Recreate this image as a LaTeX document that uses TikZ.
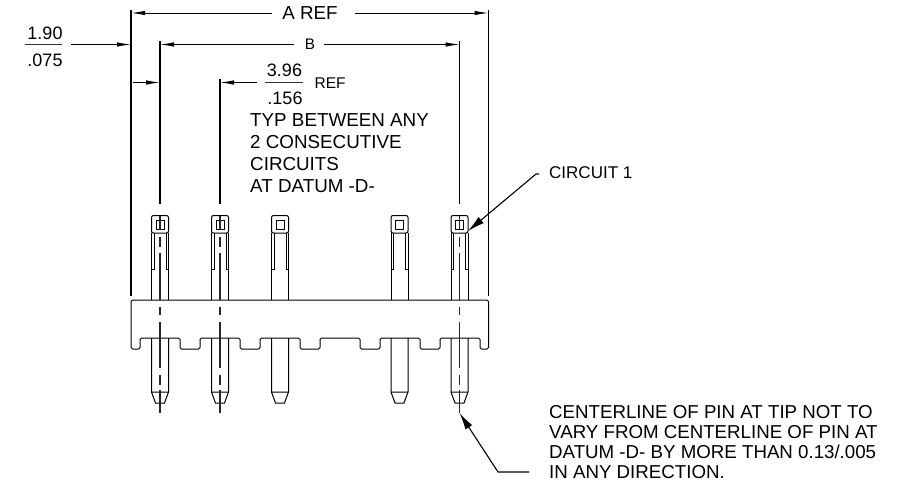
\documentclass[tikz,border=0pt]{standalone}
\usepackage{fontspec}
\setmainfont{Liberation Sans}
\usetikzlibrary{arrows.meta}
\colorlet{part colour}{black}
\tikzset{
    % Long thin heads, as on the drawing
    >={Latex[length=14pt, width=4.5pt]},
%
    % Lines
    part/.style={draw=part colour, line width=1pt},
    dim/.style={draw=black, line width=1pt, ->},
    leader/.style={draw=black, line width=1.1pt,
        >={Latex[length=17pt, width=8pt]}, ->},
    extension/.style={draw=black, line width=1.2pt},
    centre/.style={draw=black!85, line width=1.2pt},
    rule/.style={draw=black!80, line width=0.9pt},
%
    % Text
    label/.style={inner sep=0, align=left},
    big text/.style={label, font=\fontsize{18.8}{21.8}\selectfont},
    note text/.style={label, font=\fontsize{18.7}{20}\selectfont},
    small text/.style={label, font=\fontsize{15.3}{18}\selectfont},
    mid text/.style={label, font=\fontsize{17}{20}\selectfont},
    tiny text/.style={label, font=\fontsize{15.5}{18}\selectfont},
    frac text/.style={label, font=\fontsize{18}{20}\selectfont},
%
    % One pin, the origin on its axis at the top face of the housing
    pics/pin/.style={
        code={
            \draw [part, fill=white, rounded corners=2] (-8.5,-84.5) rectangle (8.5,-67);
            \draw [part] (-4,-79.5) rectangle (4,-71);
            \draw [part] (-8.5,-67) -- (-8.5,0) (8.5,-67) -- (8.5,0);
            \draw [part] (-6,-67) -- (-6,-31) -- (-8.5,-31)
                (6,-67) -- (6,-31) -- (8.5,-31);
            \draw [part] (-8.5,38) -- (-8.5,92) -- (-4.5,103) -- (4.5,103)
                -- (8.5,92) -- (8.5,38) (-8.5,92) -- (8.5,92);}},
}

\begin{document}
\begin{tikzpicture}[x=1pt, y=-1pt]
    \useasboundingbox (0,0) rectangle (899,482);

    % Free ends of the dimensions
    \path
        (131,10) coordinate (A top)
        (131,296) coordinate (A foot)
        (488.5,10) coordinate (R top)
        (488.5,296) coordinate (R foot)
        (131,13) coordinate (A left)
        (488.5,13) coordinate (A right)
        (160,44.5) coordinate (B left)
        (459.5,44.5) coordinate (B right)
        (131,44.5) coordinate (side tip)
        (160,82.5) coordinate (inner tip)
        (133,82.5) coordinate (inner start)
        (220,82.5) coordinate (pitch tip)
        (160,41) coordinate (ext one)
        (220,79) coordinate (ext two)
        (459.5,41) coordinate (ext five)
        (536,174) coordinate (circuit knee)
        (468,231) coordinate (circuit tip)
        (498,472) coordinate (note knee)
        (459.5,413) coordinate (note tip);

    % Text
    \node [big text, anchor=center] (A ref) at (310,13) {A REF};
    \node [small text, anchor=center] (B label) at (310,44.5) {B};
    \node [frac text] (side top) at (45,33) {1.90};
    \node [frac text] (side bottom) at (45,60) {.075};
    \node [frac text] (pitch top) at (284.5,70.5) {3.96};
    \node [frac text] (pitch bottom) at (285,98) {.156};
    \node [tiny text, anchor=west] (pitch ref) at (314.5,83) {REF};
    \node [big text, anchor=north west] (typ note) at (250,113.5) {TYP BETWEEN ANY\\
        2 CONSECUTIVE\\ CIRCUITS\\ AT DATUM -D-};
    \node [mid text, anchor=west] (circuit label) at (549,173) {CIRCUIT 1};
    \node [note text, anchor=north west] (pin note) at (549,405) {CENTERLINE OF PIN AT TIP NOT TO\\
        VARY FROM CENTERLINE OF PIN AT\\ DATUM -D- BY MORE THAN 0.13/.005\\
        IN ANY DIRECTION.};

    % Housing
    \draw [part, rounded corners=1.5] (131,300) -- (131,349) -- (140,349) -- (140,338)
        -- (180,338) -- (180,349) -- (200,349) -- (200,338)
        -- (240,338) -- (240,349) -- (260,349) -- (260,338)
        -- (300,338) -- (300,349) -- (320,349) -- (320,338)
        -- (360,338) -- (360,349) -- (380,349) -- (380,338)
        -- (420,338) -- (420,349) -- (440,349) -- (440,338)
        -- (480,338) -- (480,349) -- (488.5,349) -- (488.5,300) -- cycle;

    % Pins
    \foreach \x in {160, 220, 280, 399.5, 459.5}
        \pic at (\x,300) {pin};

    % Centre lines of the marked pins
    \foreach \x in {160, 220, 459.5}
        \foreach \a/\b in {216/230, 237/247, 253/300, 307/315, 322/368, 375/385, 390/413}
            \draw [centre] (\x,\a) -- (\x,\b);

    % Extension lines
    \draw [extension] (A top) -- (A foot);
    \draw [extension] (R top) -- (R foot);
    \draw [extension] (ext one) -- (160,204);
    \draw [extension] (ext two) -- (220,204);
    \draw [extension] (ext five) -- (459.5,204);

    % Dimensions
    \draw [dim] ([xshift=-10pt]A ref.west) -- (A left);
    \draw [dim] ([xshift=17pt]A ref.east) -- (A right);
    \draw [dim] ([xshift=-11pt]B label.west) -- (B left);
    \draw [dim] ([xshift=9pt]B label.east) -- (B right);
    \draw [dim] (71,44.5) -- (side tip);
    \draw [dim] (inner start) -- (inner tip);
    \draw [dim] (257,82.5) -- (pitch tip);

    % Fraction bars
    \draw [rule] (25,44.5) -- (62,44.5);
    \draw [rule] (265,82.5) -- (303,82.5);

    % Leaders
    \draw [leader] (circuit label.west |- circuit knee) ++(-10,0) -- (circuit knee) -- (circuit tip);
    \draw [leader] (529,472) -- (note knee) -- (note tip);
\end{tikzpicture}
\end{document}
